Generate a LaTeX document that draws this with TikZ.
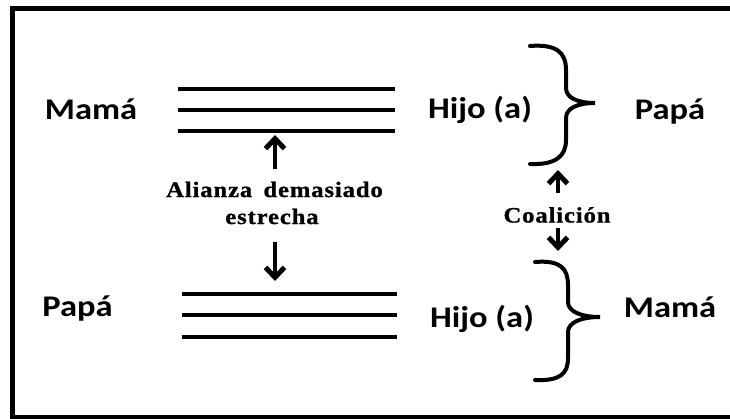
\documentclass[tikz,border=0pt]{standalone}
\usepackage{fontspec}
\usetikzlibrary{arrows.meta}
\newfontfamily\sanslab[FakeStretch=1.15]{Carlito}
\newfontfamily\seriflab[FakeStretch=1.12,LetterSpace=4,WordSpace=1.6,FakeBold=1]{Liberation Serif}
\tikzset{
  big/.style={font=\sanslab\bfseries\fontsize{30}{36}\selectfont, inner sep=0pt, anchor=base},
  small/.style={font=\seriflab\bfseries\fontsize{22}{26}\selectfont, inner sep=0pt, anchor=base},
  bar/.style={line width=4pt},
  brace/.style={line width=4pt, line cap=round},
  arr/.style={line width=4.5pt, -{Straight Barb[length=10pt,width=19pt,line width=5pt]}},
  frame/.style={line width=5pt}
}
\begin{document}
\begin{tikzpicture}[x=1pt,y=-1pt]
\useasboundingbox (0,0) rectangle (730,418);
\clip (0,0) rectangle (730,418);
\draw[frame] (12.5,8.5) rectangle (740,417.5);

% top group
\node[big] (mamaT) at (91,119) {Mamá};
\node[big] (hijoT) at (480,118) {Hijo (a)};
\node[big] (papaT) at (670,119) {Papá};
\coordinate (t1l) at (178,89);  \coordinate (t1r) at (395,89);
\coordinate (t2l) at (178,110); \coordinate (t2r) at (395,110);
\coordinate (t3l) at (178,131); \coordinate (t3r) at (395,131);
\draw[bar] (t1l) -- (t1r);
\draw[bar] (t2l) -- (t2r);
\draw[bar] (t3l) -- (t3r);

% bottom group
\node[big] (papaB) at (77.5,316) {Papá};
\node[big] (hijoB) at (482,327) {Hijo (a)};
\node[big] (mamaB) at (670,317) {Mamá};
\coordinate (b1l) at (182,294); \coordinate (b1r) at (397,294);
\coordinate (b2l) at (182,315); \coordinate (b2r) at (397,315);
\coordinate (b3l) at (182,337); \coordinate (b3r) at (397,337);
\draw[bar] (b1l) -- (b1r);
\draw[bar] (b2l) -- (b2r);
\draw[bar] (b3l) -- (b3r);

% alianza
\node[small] (al1) at (274.5,197) {Alianza demasiado};
\node[small] (al2) at (272,224) {estrecha};
\coordinate (upA) at (275,169);
\coordinate (upAt) at (275,135);
\coordinate (dnA) at (275,242);
\coordinate (dnAt) at (275,281);
\draw[arr] (upA) -- (upAt);
\draw[arr] (dnA) -- (dnAt);

% braces
\draw[brace] (530,46) .. controls (556,44) and (566,52) .. (566,70) -- (566,88)
  .. controls (566,98) and (578,103) .. (595,103)
  .. controls (578,103) and (566,108) .. (566,118) -- (566,140)
  .. controls (566,156) and (556,165) .. (530,164);
\draw[brace] (535,262) .. controls (560,260) and (568,268) .. (568,285) -- (568,302)
  .. controls (568,312) and (582,317) .. (600,317)
  .. controls (582,317) and (568,322) .. (568,332) -- (568,358)
  .. controls (568,374) and (560,381) .. (535,380);

% coalicion
\node[small] (coal) at (557,222.5) {Coalición};
\coordinate (upC) at (558,193);
\coordinate (upCt) at (558,170);
\coordinate (dnC) at (558,228);
\coordinate (dnCt) at (558,251);
\draw[arr] (upC) -- (upCt);
\draw[arr] (dnC) -- (dnCt);
\end{tikzpicture}
\end{document}
